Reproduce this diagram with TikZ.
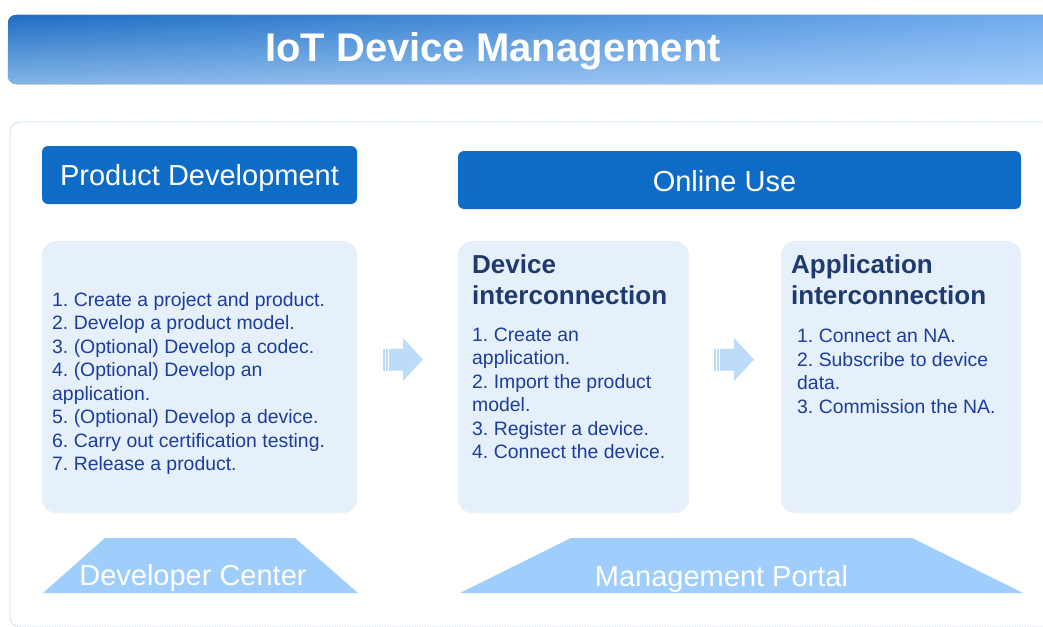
\documentclass[tikz,border=0pt]{standalone}
\usepackage{fontspec}
\setmainfont{Liberation Sans}
\frenchspacing
\usetikzlibrary{fadings}

\definecolor{titledark}{HTML}{1E6EC3}
\definecolor{titlelight}{HTML}{74AEF0}
\definecolor{titlehaze}{HTML}{C4E2FF}
\definecolor{hdrblue}{HTML}{0F6CC6}
\definecolor{boxfill}{HTML}{E5F0FB}
\definecolor{itemblue}{HTML}{1C3D9A}
\definecolor{headnavy}{HTML}{1F3A6F}
\definecolor{arrowblue}{HTML}{BDDCFA}
\definecolor{platblue}{HTML}{9FCDFC}
\definecolor{framecol}{HTML}{A9CFF2}

\tikzfading[name=fade down, top color=transparent!100, bottom color=transparent!0]

\tikzset{
  hdr/.style={fill=hdrblue, rounded corners=6pt, text=white, text depth=0pt, font=\fontsize{29}{34}\selectfont},
  hdrtext/.style={text=white, inner sep=0pt, font=\fontsize{29}{34}\selectfont},
  stepbox/.style={fill=boxfill, rounded corners=14pt, minimum height=272pt},
  % multi-line texts sit on the baseline of their last line
  item/.style={anchor=base west, align=left, inner sep=0pt, text=itemblue, font=\fontsize{19.4}{23.5}\selectfont},
  subhead/.style={anchor=base west, align=left, inner sep=0pt, text=headnavy, font=\bfseries\fontsize{26}{31.5}\selectfont},
  platform/.style={fill=platblue},
  platlabel/.style={anchor=base, inner sep=0pt, text=white, font=\fontsize{29}{34}\selectfont},
}

\begin{document}
\begin{tikzpicture}[x=1pt, y=-1pt]
    \useasboundingbox (0,0) rectangle (1043,626);

    \begin{scope}
    \clip (0,0) rectangle (1043,626);
    % title bar, darker at the top left
    \fill[rounded corners=8pt, left color=titledark, right color=titlelight] (8,15) rectangle (1070,84);
    \fill[rounded corners=8pt, titlehaze, path fading=fade down, fill opacity=0.62] (8,15) rectangle (1070,84);
    % dotted frame round the body
    \draw[framecol, line width=0.8pt, dash pattern=on 1.5pt off 1pt, rounded corners=10pt] (10,122) rectangle (1070,627);
    \end{scope}

    \node[anchor=base, inner sep=0pt, text=white, font=\bfseries\fontsize{40}{48}\selectfont] (title) at (493,61) {IoT Device Management};

    % section headers
    \node[hdr, minimum width=315pt, minimum height=58pt] (proddev) at (199.5,175) {Product Development};
    \node[hdr, minimum width=563pt, minimum height=58pt] (onlineuse) at (739.5,180) {};
    \node[hdrtext] (onlinetxt) at (724.5,181) {Online Use};

    % step boxes
    \node[stepbox, minimum width=315pt] (devbox) at (199.5,377) {};
    \node[stepbox, minimum width=231pt] (devicebox) at (573.5,377) {};
    \node[stepbox, minimum width=240pt] (appbox) at (901,377) {};

    \node[item] (devlist) at (52,470.5) {1. Create a project and product.\\
        2. Develop a product model.\\
        3. (Optional) Develop a codec.\\
        4. (Optional) Develop an\\
        application.\\
        5. (Optional) Develop a device.\\
        6. Carry out certification testing.\\
        7. Release a product.};

    \node[subhead] (devicehead) at (472,304.5) {Device\\interconnection};
    \node[item] (devicelist) at (472,458.5) {1. Create an\\
        application.\\
        2. Import the product\\
        model.\\
        3. Register a device.\\
        4. Connect the device.};

    \node[subhead] (apphead) at (791,304.5) {Application\\interconnection};
    \node[item] (applist) at (797,413) {1. Connect an NA.\\
        2. Subscribe to device\\
        data.\\
        3. Commission the NA.};

    % block arrows with a striped tail
    \foreach \x in {383,714} {
        \fill[arrowblue] ({\x+8},348.5) -- ({\x+20},348.5) -- ({\x+20},338) -- ({\x+40},359.5)
            -- ({\x+20},381) -- ({\x+20},370.5) -- ({\x+8},370.5) -- cycle;
        \foreach \s in {0,3,6}
            \fill[arrowblue] ({\x+\s},348.5) rectangle ({\x+\s+1.6},370.5);
    }

    % platforms underneath
    \fill[platform] (43,593) -- (105,538) -- (295,538) -- (358,593) -- cycle;
    \fill[platform] (460,593) -- (571,538) -- (912,538) -- (1023,593) -- cycle;
    \node[platlabel] (devcenter) at (193,585) {Developer Center};
    \node[platlabel] (portal) at (721.5,586) {Management Portal};

\end{tikzpicture}
\end{document}
